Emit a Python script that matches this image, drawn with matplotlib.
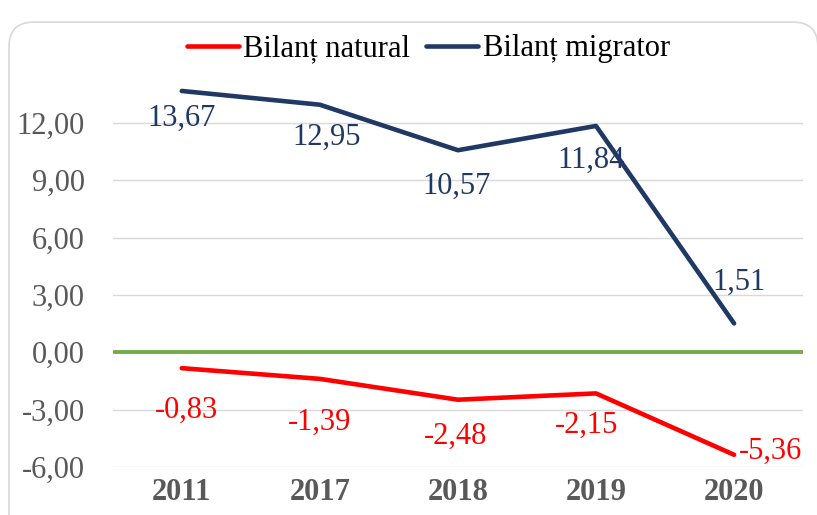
import matplotlib.pyplot as plt
from matplotlib.patches import FancyBboxPatch

plt.rcParams['font.family'] = ['Liberation Serif', 'DejaVu Serif']

ani = ["2011", "2017", "2018", "2019", "2020"]
bilant_natural = [-0.83, -1.39, -2.48, -2.15, -5.36]
bilant_migrator = [13.67, 12.95, 10.57, 11.84, 1.51]
y_ticks = [-6, -3, 0, 3, 6, 9, 12]

# offset etichete (pixeli)
off_nat = [(5, -42), (0, -43), (-2, -37), (-9, -32), (5, 3)]
off_mig = [(0, -27), (7, -33), (-1, -36), (-5, -34), (5, 41)]

rosu = "#FF0000"
albastru = "#203864"
verde = "#70AD47"
gri = "#595959"

def fmt(v):
    return f"{v:.2f}".replace(".", ",")

fig = plt.figure(figsize=(8.17, 5.15), dpi=100)
ax = fig.add_axes([0.138, 0.0932, 0.845, 0.761])

# chenar rotunjit
chenar = FancyBboxPatch((9 / 817, -0.2), 0.99, 1.157, transform=fig.transFigure,
                        boxstyle="round,pad=0,rounding_size=0.03",
                        facecolor="none", edgecolor="#D9D9D9", linewidth=1.2,
                        mutation_aspect=817 / 515)
fig.patches.append(chenar)

x = list(range(len(ani)))
for yt in y_ticks:
    if yt != 0:
        ax.axhline(yt, color="#D9D9D9", linewidth=1, zorder=1)
ax.axhline(0, color=verde, linewidth=2.8, zorder=2)

ax.plot(x, bilant_natural, color=rosu, linewidth=3.3, solid_capstyle="round",
        label="Bilanț natural", zorder=3)
ax.plot(x, bilant_migrator, color=albastru, linewidth=3.3, solid_capstyle="round",
        label="Bilanț migrator", zorder=3)

for i, v in enumerate(bilant_natural):
    ha = "left" if i == len(ani) - 1 else "center"
    ax.annotate(fmt(v), (x[i], v), xytext=off_nat[i], textcoords="offset pixels",
                ha=ha, va="center", fontsize=22, color=rosu)
for i, v in enumerate(bilant_migrator):
    ax.annotate(fmt(v), (x[i], v), xytext=off_mig[i], textcoords="offset pixels",
                ha="center", va="center", fontsize=22, color=albastru)

ax.set_xlim(-0.5, len(ani) - 0.5)
ax.set_ylim(-6, 14.5)
ax.set_yticks(y_ticks)
ax.set_yticklabels([fmt(t) for t in y_ticks], fontsize=22, color=gri)
ax.set_xticks(x)
ax.set_xticklabels(ani, fontsize=22, fontweight="bold", color=gri)
ax.tick_params(axis="y", length=0, pad=20)
ax.tick_params(axis="x", length=0, pad=8)
for s in ax.spines.values():
    s.set_visible(False)

fig.legend(loc="center", bbox_to_anchor=(0.524, 0.905), ncol=2, frameon=False,
           fontsize=22, handlelength=1.7, handletextpad=0.16, columnspacing=0.5)

fig.savefig("out.png", dpi=100)
